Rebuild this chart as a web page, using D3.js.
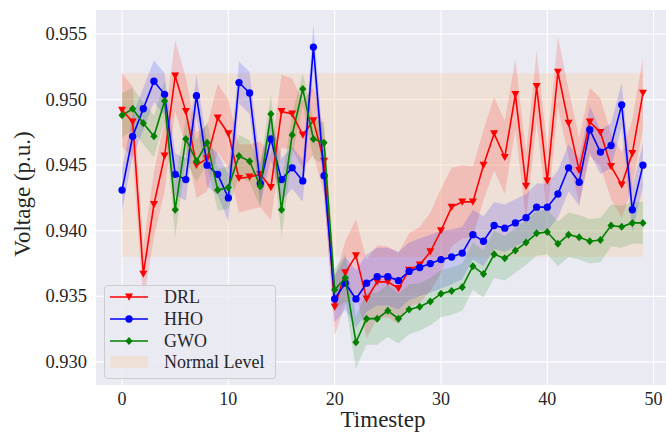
<!DOCTYPE html>
<html>
<head>
<meta charset="utf-8">
<script src="https://cdn.jsdelivr.net/npm/d3@7"></script>
<style>
  body { margin: 0; background: #ffffff; }
  svg text { font-family: "Liberation Serif", "Times New Roman", Times, "DejaVu Serif", serif; }
</style>
</head>
<body>
<svg id="chart"></svg>
<script>
// data
var timesteps = d3.range(0, 50)

var drl = [0.9492, 0.9483, 0.9367, 0.9420, 0.9457, 0.9518, 0.9491, 0.9450, 0.9455, 0.9486,
           0.9474, 0.9440, 0.9441, 0.9443, 0.9433, 0.9491, 0.9489, 0.9473, 0.9484, 0.9453,
           0.9342, 0.9368, 0.9381, 0.9348, 0.9361, 0.9361, 0.9356, 0.9370, 0.9374, 0.9384,
           0.9400, 0.9418, 0.9422, 0.9422, 0.9450, 0.9474, 0.9456, 0.9504, 0.9434, 0.9510,
           0.9438, 0.9521, 0.9482, 0.9446, 0.9483, 0.9475, 0.9449, 0.9435, 0.9459, 0.9505]

var hho = [0.9431, 0.9472, 0.9493, 0.9514, 0.9504, 0.9443, 0.9439, 0.9503, 0.9450, 0.9443,
           0.9425, 0.9513, 0.9505, 0.9436, 0.9470, 0.9439, 0.9448, 0.9438, 0.9540, 0.9442,
           0.9348, 0.9360, 0.9348, 0.9360, 0.9365, 0.9365, 0.9362, 0.9369, 0.9372, 0.9375,
           0.9378, 0.9380, 0.9383, 0.9397, 0.9392, 0.9404, 0.9402, 0.9406, 0.9410, 0.9418,
           0.9418, 0.9428, 0.9448, 0.9437, 0.9477, 0.9460, 0.9465, 0.9496, 0.9416, 0.9450]

var gwo = [0.9488, 0.9493, 0.9482, 0.9472, 0.9499, 0.9416, 0.9470, 0.9453, 0.9467, 0.9431,
           0.9433, 0.9457, 0.9453, 0.9434, 0.9489, 0.9416, 0.9473, 0.9508, 0.9470, 0.9467,
           0.9355, 0.9364, 0.9315, 0.9333, 0.9333, 0.9339, 0.9333, 0.9340, 0.9342, 0.9346,
           0.9352, 0.9354, 0.9357, 0.9373, 0.9367, 0.9382, 0.9379, 0.9385, 0.9391, 0.9398,
           0.9399, 0.9390, 0.9397, 0.9395, 0.9392, 0.9393, 0.9404, 0.9403, 0.9406, 0.9406]

// half-width of the shaded spread around each line
var drlSpread = [0.0028, 0.0027, 0.0022, 0.0025, 0.0027, 0.0027, 0.0026, 0.0025, 0.0025, 0.0026,
                 0.0026, 0.0026, 0.0025, 0.0025, 0.0025, 0.0028, 0.0027, 0.0026, 0.0026, 0.0025,
                 0.0022, 0.0024, 0.0028, 0.0030, 0.0028, 0.0027, 0.0027, 0.0028, 0.0029, 0.0030,
                 0.0032, 0.0030, 0.0028, 0.0027, 0.0027, 0.0028, 0.0028, 0.0027, 0.0026, 0.0027,
                 0.0026, 0.0027, 0.0026, 0.0025, 0.0026, 0.0026, 0.0025, 0.0025, 0.0026, 0.0027]

var hhoSpread = [0.0016, 0.0016, 0.0016, 0.0016, 0.0016, 0.0016, 0.0016, 0.0016, 0.0016, 0.0016,
                 0.0018, 0.0016, 0.0016, 0.0016, 0.0016, 0.0016, 0.0016, 0.0016, 0.0017, 0.0016,
                 0.0018, 0.0020, 0.0022, 0.0022, 0.0022, 0.0022, 0.0022, 0.0022, 0.0022, 0.0022,
                 0.0022, 0.0021, 0.0020, 0.0019, 0.0019, 0.0018, 0.0018, 0.0018, 0.0018, 0.0018,
                 0.0018, 0.0018, 0.0018, 0.0018, 0.0018, 0.0017, 0.0017, 0.0017, 0.0017, 0.0017]

var gwoSpread = [0.0017, 0.0016, 0.0016, 0.0016, 0.0015, 0.0021, 0.0016, 0.0016, 0.0016, 0.0016,
                 0.0016, 0.0016, 0.0016, 0.0016, 0.0015, 0.0021, 0.0016, 0.0012, 0.0015, 0.0016,
                 0.0016, 0.0018, 0.0020, 0.0020, 0.0020, 0.0020, 0.0019, 0.0019, 0.0018, 0.0018,
                 0.0018, 0.0018, 0.0018, 0.0018, 0.0018, 0.0018, 0.0017, 0.0017, 0.0017, 0.0017,
                 0.0017, 0.0017, 0.0017, 0.0017, 0.0017, 0.0017, 0.0016, 0.0016, 0.0016, 0.0016]

var normalLow = 0.938
var normalHigh = 0.952
var normalStart = 0
var normalEnd = 49

var xTicks = [0, 10, 20, 30, 40, 50]
var yTicks = [0.930, 0.935, 0.940, 0.945, 0.950, 0.955]

var seriesNames = ["DRL", "HHO", "GWO"]
var seriesColors = ["#ff0000", "#0000ff", "#008000"]

var dimensions = ({
    width: 666,
    height: 432,
    margin: { top: 10, bottom: 47, right: -3, left: 96 }
})

var svg = d3.select("#chart")
            .attr("width", dimensions.width)
            .attr("height", dimensions.height)

var plotW = dimensions.width - dimensions.margin.left - dimensions.margin.right
var plotH = dimensions.height - dimensions.margin.top - dimensions.margin.bottom

var xScale = d3.scaleLinear()
               .domain([-2.45, 51.45])
               .range([dimensions.margin.left, dimensions.margin.left + plotW])

var yScale = d3.scaleLinear()
               .domain([0.92824, 0.95683])
               .range([dimensions.margin.top + plotH, dimensions.margin.top])

svg.append("defs").append("clipPath").attr("id", "plotclip")
   .append("rect")
   .attr("x", dimensions.margin.left).attr("y", dimensions.margin.top)
   .attr("width", plotW).attr("height", plotH)

// background
svg.append("rect")
   .attr("x", dimensions.margin.left).attr("y", dimensions.margin.top)
   .attr("width", plotW).attr("height", plotH)
   .attr("fill", "#eaeaf2")

// grid
svg.append("g").selectAll("line").data(xTicks).enter().append("line")
   .attr("x1", d => xScale(d)).attr("x2", d => xScale(d))
   .attr("y1", dimensions.margin.top).attr("y2", dimensions.margin.top + plotH)
   .attr("stroke", "#ffffff").attr("stroke-width", 1.1)
svg.append("g").selectAll("line").data(yTicks).enter().append("line")
   .attr("x1", dimensions.margin.left).attr("x2", dimensions.margin.left + plotW)
   .attr("y1", d => yScale(d)).attr("y2", d => yScale(d))
   .attr("stroke", "#ffffff").attr("stroke-width", 1.1)

var plot = svg.append("g").attr("clip-path", "url(#plotclip)")

// normal level band
plot.append("rect")
    .attr("x", xScale(normalStart))
    .attr("y", yScale(normalHigh))
    .attr("width", xScale(normalEnd) - xScale(normalStart))
    .attr("height", yScale(normalLow) - yScale(normalHigh))
    .attr("fill", "#f7d2ae")
    .attr("opacity", 0.4)

var values = [drl, hho, gwo]
var spreads = [drlSpread, hhoSpread, gwoSpread]

// spread bands
values.forEach(function(vals, k) {
    var area = d3.area()
                 .x(function(d, i) { return xScale(timesteps[i]) })
                 .y0(function(d, i) { return yScale(d - spreads[k][i]) })
                 .y1(function(d, i) { return yScale(d + spreads[k][i]) })
    plot.append("path")
        .datum(vals)
        .attr("d", area)
        .attr("fill", seriesColors[k])
        .attr("opacity", 0.15)
})

function markerPath(k) {
    if (k == 0) return "M-4,-3.4L4,-3.4L0,3.8Z"
    if (k == 1) return d3.symbol().type(d3.symbolCircle).size(42)()
    return "M0,-4L3.6,0L0,4L-3.6,0Z"
}

// lines and markers
values.forEach(function(vals, k) {
    var line = d3.line()
                 .x(function(d, i) { return xScale(timesteps[i]) })
                 .y(function(d) { return yScale(d) })
    plot.append("path")
        .datum(vals)
        .attr("d", line)
        .attr("fill", "none")
        .attr("stroke", seriesColors[k])
        .attr("stroke-width", 1.6)
    plot.append("g").selectAll("path").data(vals).enter().append("path")
        .attr("d", markerPath(k))
        .attr("transform", function(d, i) { return "translate(" + xScale(timesteps[i]) + "," + yScale(d) + ")" })
        .attr("fill", seriesColors[k])
})

// tick labels
svg.append("g").selectAll("text").data(xTicks).enter().append("text")
   .attr("x", d => xScale(d))
   .attr("y", 405)
   .attr("text-anchor", "middle")
   .attr("font-size", 18)
   .attr("fill", "#262626")
   .text(d => d)

svg.append("g").selectAll("text").data(yTicks).enter().append("text")
   .attr("x", 87)
   .attr("y", d => yScale(d) + 6)
   .attr("text-anchor", "end")
   .attr("font-size", 18.5)
   .attr("fill", "#262626")
   .text(d => d3.format(".3f")(d))

// axis titles
svg.append("text")
   .attr("x", 383).attr("y", 427)
   .attr("text-anchor", "middle")
   .attr("font-size", 23)
   .attr("fill", "#262626")
   .text("Timestep")

svg.append("text")
   .attr("transform", "translate(30,194) rotate(-90)")
   .attr("text-anchor", "middle")
   .attr("font-size", 23)
   .attr("fill", "#262626")
   .text("Voltage (p.u.)")

// legend
var legend = svg.append("g")
legend.append("rect")
      .attr("x", 104.5).attr("y", 285.5)
      .attr("width", 171).attr("height", 93)
      .attr("rx", 3)
      .attr("fill", "#eaeaf2").attr("fill-opacity", 0.8)
      .attr("stroke", "#cccccc").attr("stroke-width", 1)

var legendY = [297, 319, 341, 362]
seriesNames.forEach(function(name, k) {
    legend.append("line")
          .attr("x1", 110).attr("x2", 148)
          .attr("y1", legendY[k]).attr("y2", legendY[k])
          .attr("stroke", seriesColors[k]).attr("stroke-width", 1.6)
    legend.append("path")
          .attr("d", markerPath(k))
          .attr("transform", "translate(129," + legendY[k] + ")")
          .attr("fill", seriesColors[k])
    legend.append("text")
          .attr("x", 164).attr("y", legendY[k] + 6)
          .attr("font-size", 18)
          .attr("fill", "#262626")
          .text(name)
})
legend.append("rect")
      .attr("x", 110).attr("y", legendY[3] - 6)
      .attr("width", 38).attr("height", 12)
      .attr("fill", "#f7d2ae").attr("opacity", 0.4)
legend.append("text")
      .attr("x", 164).attr("y", legendY[3] + 6)
      .attr("font-size", 18)
      .attr("fill", "#262626")
      .text("Normal Level")
</script>
</body>
</html>
